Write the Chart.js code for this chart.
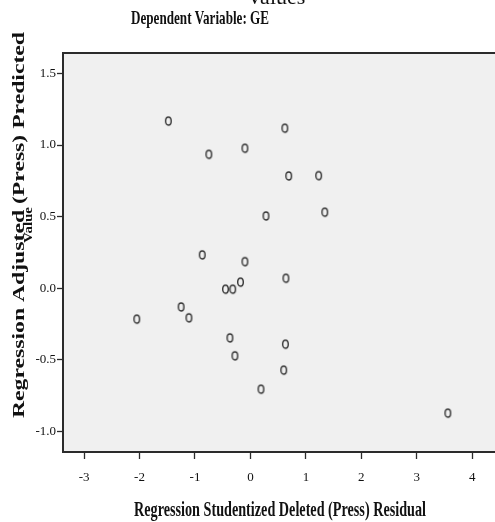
<!DOCTYPE html>
<html>
<head>
<meta charset="utf-8">
<script src="https://cdn.jsdelivr.net/npm/chart.js@4.4.1/dist/chart.umd.min.js"></script>
<style>
  html, body { margin: 0; padding: 0; background: #fff; overflow: hidden; }
  #wrap { width: 505px; height: 522px; }
</style>
</head>
<body>
<div id="wrap"><canvas id="scatter" width="505" height="522"></canvas></div>
<script>
// --- data ---
const residualX = [-1.48, -0.75, -0.10, 0.62, 0.69, 1.23, 0.28, 1.34, -0.87, -0.10, 0.64,
                   -0.45, -0.32, -0.18, -1.25, -1.11, -2.05, -0.37, -0.28, 0.63, 0.60, 0.19, 3.56];
const predictedY = [1.167, 0.935, 0.977, 1.117, 0.784, 0.786, 0.505, 0.531, 0.233, 0.186, 0.070,
                    -0.006, -0.006, 0.043, -0.130, -0.206, -0.215, -0.346, -0.471, -0.390, -0.571, -0.704, -0.871];
const xTicks = [-3, -2, -1, 0, 1, 2, 3, 4];
const yTicks = [-1.0, -0.5, 0.0, 0.5, 1.0, 1.5];

const points = residualX.map((x, i) => ({ x: x, y: predictedY[i] }));

// open "o" marker, slightly taller than wide like the SPSS glyph
function makeMarker() {
    const c = document.createElement('canvas');
    c.width = 9; c.height = 12;
    const g = c.getContext('2d');
    g.strokeStyle = '#333';
    g.lineWidth = 1.4;
    g.beginPath();
    g.ellipse(4.5, 6, 2.8, 4.0, 0, 0, Math.PI * 2);
    g.stroke();
    return c;
}

// text squeezed/stretched to a given width (the original uses a condensed face)
function fitText(ctx, text, font, width) {
    ctx.font = font;
    const w = ctx.measureText(text).width;
    ctx.scale(width / w, 1);
    ctx.fillText(text, 0, 0);
}

const framePlugin = {
    id: 'frame',
    beforeDraw(chart) {
        const { ctx, chartArea: a } = chart;
        ctx.save();
        ctx.fillStyle = '#f0f0f0';
        ctx.fillRect(a.left, a.top, a.right - a.left, a.bottom - a.top);
        ctx.restore();
    },
    afterDraw(chart) {
        const { ctx, chartArea: a } = chart;
        ctx.save();
        ctx.strokeStyle = '#2b2b2b';
        ctx.lineWidth = 2;
        ctx.beginPath();
        ctx.moveTo(a.left, a.top);
        ctx.lineTo(a.right, a.top);
        ctx.lineTo(a.right, a.bottom);
        ctx.stroke();

        ctx.fillStyle = '#111';
        ctx.textBaseline = 'alphabetic';

        // clipped title line
        ctx.save();
        ctx.font = '22px "Liberation Serif", serif';
        ctx.textAlign = 'center';
        ctx.fillText('Values', 276, 4);
        ctx.restore();

        // subtitle
        ctx.save();
        ctx.textAlign = 'left';
        ctx.translate(131, 24);
        fitText(ctx, 'Dependent Variable: GE', 'bold 19px "Liberation Serif", serif', 138);
        ctx.restore();

        // x axis title
        ctx.save();
        ctx.textAlign = 'left';
        ctx.translate(134, 516);
        fitText(ctx, 'Regression Studentized Deleted (Press) Residual', 'bold 20px "Liberation Serif", serif', 292);
        ctx.restore();

        // y axis title, two overlapping lines
        ctx.save();
        ctx.textAlign = 'left';
        ctx.translate(24, 418);
        ctx.rotate(-Math.PI / 2);
        fitText(ctx, 'Regression Adjusted (Press) Predicted', 'bold 17px "Liberation Serif", serif', 386);
        ctx.restore();

        ctx.save();
        ctx.textAlign = 'center';
        ctx.translate(32, 225);
        ctx.rotate(-Math.PI / 2);
        fitText(ctx, 'Value', 'bold 13px "Liberation Serif", serif', 36);
        ctx.restore();

        ctx.restore();
    }
};

const tickFont = { family: '"Liberation Serif", serif', size: 13 };

new Chart(document.getElementById('scatter'), {
    type: 'scatter',
    data: {
        datasets: [{
            data: points,
            pointStyle: makeMarker(),
            pointRadius: 4,
            pointHoverRadius: 4
        }]
    },
    options: {
        responsive: false,
        animation: false,
        events: [],
        layout: { padding: { left: 0, top: 53, right: 0, bottom: 0 } },
        plugins: {
            legend: { display: false },
            tooltip: { enabled: false }
        },
        scales: {
            x: {
                type: 'linear',
                min: -3.38,
                max: 4.5,
                afterFit: s => { s.height = 70; },
                afterBuildTicks: s => { s.ticks = xTicks.map(v => ({ value: v })); },
                grid: { drawOnChartArea: false, drawTicks: true, tickLength: 7, color: '#2b2b2b', tickWidth: 1.3 },
                border: { display: true, color: '#2b2b2b', width: 2 },
                ticks: { color: '#111', font: tickFont, padding: 11, maxRotation: 0, callback: v => String(v) }
            },
            y: {
                type: 'linear',
                min: -1.142,
                max: 1.642,
                afterFit: s => { s.width = 63; },
                afterBuildTicks: s => { s.ticks = yTicks.map(v => ({ value: v })); },
                grid: { drawOnChartArea: false, drawTicks: true, tickLength: 6, color: '#2b2b2b', tickWidth: 1.3 },
                border: { display: true, color: '#2b2b2b', width: 2 },
                ticks: { color: '#111', font: tickFont, padding: 1, callback: v => v.toFixed(1) }
            }
        }
    },
    plugins: [framePlugin]
});
</script>
</body>
</html>
